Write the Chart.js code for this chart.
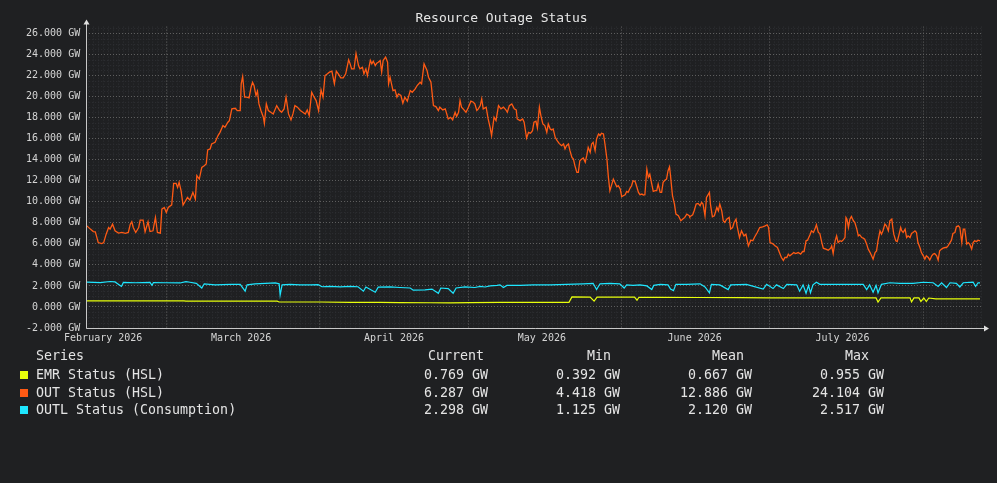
<!DOCTYPE html>
<html>
<head>
<meta charset="utf-8">
<title>Resource Outage Status</title>
<script src="https://cdn.jsdelivr.net/npm/chart.js@4.4.1/dist/chart.umd.min.js"></script>
<style>
  html, body { margin: 0; padding: 0; background: #1f2022; }
  #wrap { position: relative; width: 997px; height: 483px; overflow: hidden;
          font-family: "DejaVu Sans Mono", monospace; color: #e4e4e4; }
  #chart { position: absolute; left: 0; top: 0; }
  .cell { position: absolute; font-size: 13.3px; line-height: 16px; white-space: pre; }
  .num { text-align: right; width: 110px; }
  .sw { position: absolute; width: 8px; height: 8px; }
</style>
</head>
<body>
<div id="wrap">
  <canvas id="chart" width="997" height="350"></canvas>
  <div id="legend"></div>
</div>
<script>
// time axis: days counted from 1 February 2026
const monthStartDays = [0, 28, 59, 89, 120, 150];
const monthLabels = ['February 2026', 'March 2026', 'April 2026', 'May 2026', 'June 2026', 'July 2026'];
const midMonthDays = [12.9, 43.9, 74.1, 105.1, 135.2, 166.4];
const yTickValues = [-2000, 0, 2000, 4000, 6000, 8000, 10000, 12000, 14000, 16000, 18000, 20000, 22000, 24000, 26000];

const seriesNames = ['EMR Status (HSL)', 'OUT Status (HSL)', 'OUTL Status (Consumption)'];
const statCurrent = [0.769, 6.287, 2.298];
const statMin = [0.392, 4.418, 1.125];
const statMean = [0.667, 12.886, 2.120];
const statMax = [0.955, 24.104, 2.517];

// OUT Status (HSL)
const outDays = [
  -3.3,-2.6,-2.0,-1.6,-1.0,-0.3,0.1,0.6,1.1,1.4,1.9,2.4,3.1,3.8,4.5,5.1,5.5,5.8,6.1,6.6,
  7.2,7.5,8.1,8.5,9.1,9.5,10.1,10.6,11.0,11.6,11.9,12.4,12.8,13.2,13.9,14.3,14.8,15.1,15.4,15.8,
  16.2,16.6,17.1,17.6,18.2,18.7,19.0,19.5,20.0,20.5,20.9,21.2,21.7,22.0,22.7,23.3,23.7,24.3,24.7,25.3,
  25.6,26.1,26.8,27.2,27.8,
  28.0,28.3,28.7,29.1,29.6,30.0,30.3,30.6,31.0,31.3,31.6,32.0,32.5,32.7,33.1,33.5,34.0,34.5,35.2,35.8,
  36.2,36.7,37.1,37.6,38.1,38.5,38.9,39.4,40.0,40.5,41.0,41.4,41.8,42.3,42.8,43.2,43.7,44.2,44.6,45.0,
  45.5,45.9,46.4,46.9,47.3,47.7,48.2,48.7,49.2,49.8,50.1,50.4,50.9,51.3,51.8,52.1,52.6,52.9,53.3,53.6,
  54.2,54.5,54.8,55.2,55.5,55.8,56.2,56.5,56.8,57.3,57.7,57.9,
  58.2,58.8,59.2,59.6,59.9,60.4,60.8,61.2,61.7,62.3,62.7,63.3,63.7,64.3,64.6,65.1,65.7,66.0,66.5,67.0,
  67.5,68.0,68.3,68.9,69.4,70.0,70.5,70.9,71.4,71.7,72.1,72.4,72.7,73.2,73.6,74.1,74.6,75.1,75.4,75.8,
  76.1,76.5,76.8,77.1,77.7,78.1,78.5,78.8,79.3,79.7,80.2,80.7,81.2,81.7,82.0,82.4,82.9,83.4,83.8,84.0,
  84.6,85.1,85.4,85.9,86.3,86.7,87.1,87.4,87.8,88.1,88.5,
  88.8,89.2,89.6,90.0,90.3,90.7,91.0,91.3,91.7,92.1,92.5,93.0,93.4,93.7,94.0,94.4,94.7,95.1,95.4,95.7,
  96.1,96.4,96.7,97.1,97.4,97.8,98.1,98.4,98.8,99.1,99.4,99.8,100.1,100.5,100.8,101.1,101.5,101.8,102.2,102.5,
  102.8,103.2,103.5,103.8,104.2,104.5,104.9,105.2,105.5,105.9,106.2,106.5,106.9,107.2,107.5,107.9,108.2,108.6,108.9,109.3,
  109.6,109.9,110.3,110.6,110.9,111.3,111.6,112.0,112.3,112.6,113.0,113.3,113.6,114.0,114.3,114.6,114.9,115.1,115.5,115.9,
  116.2,116.7,117.2,117.6,118.0,118.4,118.9,
  119.0,119.6,119.9,120.3,120.7,121.1,121.4,121.7,122.1,122.4,122.8,123.0,123.2,123.6,124.0,124.5,124.8,125.1,125.5,125.8,
  126.1,126.5,127.0,127.3,127.7,128.0,128.4,128.6,129.1,129.5,130.0,130.4,130.9,131.4,131.8,132.2,132.7,133.2,133.8,134.3,
  134.7,135.0,135.3,135.8,136.3,136.8,137.2,137.6,138.0,138.3,138.7,139.0,139.3,139.7,140.1,140.5,141.0,141.5,141.9,142.2,
  142.6,142.9,143.4,143.7,144.1,144.4,144.7,145.1,145.4,145.8,146.1,146.6,147.1,147.6,147.8,148.1,148.5,148.8,
  149.1,149.5,149.8,150.1,150.5,150.7,150.9,151.2,151.5,151.8,152.2,152.5,152.9,153.2,153.5,153.9,154.2,154.5,154.9,155.2,
  155.6,155.9,156.2,156.6,156.9,157.2,157.6,157.9,158.2,158.6,158.9,159.3,159.6,160.0,160.2,160.4,160.8,161.1,161.4,161.8,
  162.0,162.3,162.7,163.0,163.3,163.7,164.0,164.3,164.7,165.0,165.3,165.7,166.0,166.4,166.7,167.0,167.4,167.7,168.1,168.4,
  168.7,169.1,169.4,169.7,170.1,170.4,170.8,171.1,171.4,171.8,172.1,172.4,172.8,173.1,173.5,173.8,174.2,174.5,174.8,175.2,
  175.5,175.8,176.2,176.5,176.8,177.2,177.5,177.9
];
const outValues = [
  7710,7400,7170,7140,6120,6030,6120,6920,7550,7400,7870,7240,7020,7080,7000,7080,7870,8100,7550,7080,
  7550,8250,8250,7140,8100,7170,7240,8510,7080,7020,9300,9460,8980,9460,9710,11740,11740,11360,11840,11050,
  9680,10000,10410,10160,10890,10250,12480,12160,13270,13430,13590,14920,15020,15490,15650,16290,16600,17240,17080,17560,
  17710,18830,18890,18670,18670,
  21210,21900,19940,19940,19870,20890,21360,21050,20100,20510,19300,18670,18030,17460,19300,18670,18510,18350,19140,18670,
  18510,18830,19940,18350,17780,18350,19140,18990,18670,18510,18350,18730,18190,20410,19940,19620,18670,20630,19940,22000,
  22160,22320,22410,21210,22410,22160,21780,21780,22160,23490,23110,22630,22630,24104,22950,22630,22790,22160,22630,22000,
  23430,23110,23370,22950,23170,23270,23430,22320,23430,23750,23270,21210,
  21840,20570,20630,19940,20250,20100,19370,19940,19560,20570,20410,20730,21050,21360,21210,23110,22480,21840,21360,19140,
  19050,18670,18990,18730,18830,17870,18030,17780,18510,18100,18510,19620,18990,18730,18510,18990,19560,19460,19300,18670,
  18830,19140,19780,18830,18990,17870,17080,16290,18030,17710,19140,18830,18990,18730,18510,19140,19300,18830,18730,17870,
  17710,17870,17560,16060,16600,16510,16760,17560,17650,17020,18990,
  18190,17400,17240,16600,17400,16920,16830,16920,16120,15810,15550,15330,15490,15020,15330,15490,14860,14220,14060,13430,
  12790,12790,13900,14060,14160,13750,14380,15170,14700,15490,15650,14860,15970,16450,16290,16510,16450,15490,14060,12320,
  11050,11680,12160,11840,11430,11520,11210,10480,10570,10670,10980,10890,11300,11520,12000,11940,11520,10890,10670,10730,
  10640,10670,13110,12320,12630,11680,10980,11050,11050,11680,10890,10890,11840,12060,12160,12950,13330,12480,10570,9780,
  8830,8670,8190,8350,8510,8830,8670,
  8570,8760,9140,9780,9840,9620,9940,9780,8670,10410,10730,10890,9780,8570,8670,9460,9140,9780,9140,8190,
  8030,8350,8510,7400,7550,8030,8350,7710,6600,7240,6760,6920,5810,6350,6290,6670,7080,7550,7620,7710,
  7810,7550,6120,6030,5810,5650,5170,4700,4418,4700,4700,5020,4860,5020,5170,5080,5170,5020,5270,5270,
  6290,6350,6860,7240,7080,7400,7810,7080,6980,6120,5590,5500,5400,5590,5810,5080,6290,6760,
  6120,6290,6220,6350,6600,8510,8350,7550,8350,8600,8190,8030,7400,6760,6860,6600,6540,6440,5970,5500,
  5170,4860,4540,5170,5330,6290,7240,6920,7240,7870,7710,7240,8190,8350,7550,6920,6290,6220,6760,7550,
  7240,7080,7400,6600,6760,6600,6980,7080,7240,7080,6120,5650,5170,4860,4540,4860,4700,4450,4860,5020,
  5080,4860,4450,5330,5500,5590,5650,5650,5810,6120,6350,6980,7080,7620,7710,7550,6120,7400,7400,5970,
  6120,5970,5500,6120,6290,6220,6350,6287
];

// OUTL Status (Consumption)
const outlDays = [
  -3.3,-0.6,1.4,2.4,3.7,4.1,6.5,9.5,9.9,10.2,
  12.6,15.6,16.8,17.6,18.9,20.0,20.5,22.7,25.8,27.8,
  28.8,29.2,30.8,32.9,34.9,35.7,35.9,36.3,37.9,40.0,
  42.0,43.6,44.4,46.0,48.1,50.1,51.7,52.8,53.3,55.2,
  55.8,58.2,60.2,62.3,62.9,65.3,66.7,68.0,68.5,70.0,
  71.0,71.6,73.4,75.4,76.5,77.5,78.5,79.9,80.5,81.2,
  81.9,84.6,87.2,90.7,94.0,97.4,99.4,100.1,100.8,102.8,
  104.8,105.7,106.2,107.5,108.9,110.3,111.3,111.7,113.0,114.6,
  115.1,115.7,116.2,118.4,121.1,122.1,123.0,123.4,125.1,126.8,
  127.3,130.5,133.9,134.6,135.9,136.6,138.0,138.7,140.7,141.3,
  142.0,142.6,143.1,143.5,144.0,144.7,145.4,148.1,151.5,154.2,
  154.9,155.5,156.2,156.8,157.2,157.9,159.6,161.6,164.3,166.4,
  168.4,169.4,170.1,171.1,171.8,173.1,173.8,174.5,176.5,177.0,
  177.5,177.9
];
const outlValues = [
  2355,2320,2420,2380,1950,2330,2300,2340,2050,2320,
  2300,2280,2400,2350,2250,1800,2200,2100,2150,2150,
  1500,2100,2200,2250,2280,2200,1125,2100,2150,2100,
  2100,2120,1920,1950,1900,1950,1920,1500,1900,1400,
  1880,1900,1850,1800,1600,1620,1700,1300,1800,1750,
  1300,1800,1900,1850,1950,1900,2000,2050,2100,1850,
  2050,2050,2100,2100,2150,2200,2250,1650,2200,2250,
  2200,1800,2100,2050,2100,2000,1650,2050,2150,2100,
  1700,1550,2150,2150,2200,1900,1350,2150,2100,1650,
  2100,2150,1700,2150,1750,2100,1750,2150,2100,1500,
  2100,1300,2050,1350,2100,2350,2150,2150,2150,2150,
  1650,2100,1400,2050,1350,2150,2300,2250,2250,2350,
  2300,1950,2300,1850,2300,2250,1900,2300,2350,1950,
  2300,2298
];

// EMR Status (HSL)
const emrDays = [
  -3.3,5.5,9.5,16.4,16.8,25.8,29.8,35.3,35.7,44.0,
  50.1,56.2,60.2,66.3,70.4,74.4,80.5,86.6,94.5,95.1,
  98.8,99.6,100.2,104.8,107.8,108.3,108.7,113.0,121.1,129.2,
  135.3,145.4,156.8,157.2,157.8,163.7,164.0,164.5,165.5,165.9,
  166.5,167.0,167.5,168.9,177.9
];
const emrValues = [
  580,585,575,570,550,555,560,555,470,470,
  440,430,420,400,392,420,440,440,440,950,
  940,560,940,930,930,640,920,920,900,890,
  870,860,860,460,860,860,480,860,860,520,
  850,520,850,770,769
];

const FONT = '"DejaVu Sans Mono", monospace';
const colors = ['#e8ff0c', '#ff5a14', '#1ee6ff'];

function pairs(days, values) {
  return days.map((d, i) => ({ x: d, y: values[i] }));
}

const chartDecor = {
  id: 'chartDecor',
  beforeDraw(chart) {
    // faint minor grid
    const { ctx, chartArea: a, scales } = chart;
    ctx.save();
    ctx.strokeStyle = '#2f3034';
    ctx.lineWidth = 1;
    ctx.setLineDash([1, 2]);
    ctx.beginPath();
    for (let v = -1500; v < 26650; v += 500) {
      if (v % 2000 === 0) continue;
      const y = Math.round(scales.y.getPixelForValue(v)) + 0.5;
      ctx.moveTo(a.left, y); ctx.lineTo(a.right, y);
    }
    for (let d = -3; d <= 178; d++) {
      const x = Math.round(scales.x.getPixelForValue(d)) + 0.5;
      ctx.moveTo(x, a.top); ctx.lineTo(x, a.bottom);
    }
    ctx.stroke();
    ctx.restore();
  },
  afterDraw(chart) {
    // axes with arrow heads
    const { ctx, chartArea: a } = chart;
    const x0 = Math.round(a.left) + 0.5, y0 = Math.round(a.bottom) + 0.5;
    ctx.save();
    ctx.strokeStyle = '#c8c8c8';
    ctx.fillStyle = '#e0e0e0';
    ctx.lineWidth = 1;
    ctx.beginPath();
    ctx.moveTo(x0, y0); ctx.lineTo(x0, a.top - 3);
    ctx.moveTo(x0, y0); ctx.lineTo(a.right + 2, y0);
    ctx.stroke();
    ctx.beginPath();
    ctx.moveTo(x0, a.top - 7); ctx.lineTo(x0 - 3, a.top - 2); ctx.lineTo(x0 + 3, a.top - 2);
    ctx.closePath(); ctx.fill();
    ctx.beginPath();
    ctx.moveTo(a.right + 6, y0); ctx.lineTo(a.right + 1, y0 - 3); ctx.lineTo(a.right + 1, y0 + 3);
    ctx.closePath(); ctx.fill();
    ctx.restore();
  }
};

const chart = new Chart(document.getElementById('chart'), {
  type: 'line',
  data: {
    datasets: [
      { label: seriesNames[0], data: pairs(emrDays, emrValues), borderColor: colors[0], borderWidth: 1.2 },
      { label: seriesNames[1], data: pairs(outDays, outValues), borderColor: colors[1], borderWidth: 1.3 },
      { label: seriesNames[2], data: pairs(outlDays, outlValues), borderColor: colors[2], borderWidth: 1.2 }
    ]
  },
  options: {
    responsive: false,
    animation: false,
    devicePixelRatio: 1,
    elements: { point: { radius: 0 }, line: { tension: 0 } },
    layout: { padding: { left: 20, right: 14, top: 0, bottom: 2 } },
    plugins: {
      legend: { display: false },
      tooltip: { enabled: false },
      title: {
        display: true,
        text: 'Resource Outage Status',
        color: '#e6e6e6',
        font: { family: FONT, size: 13, weight: 'normal' },
        padding: { top: 11, bottom: 0 }
      }
    },
    scales: {
      x: {
        type: 'linear',
        min: -3.45,
        max: 178.5,
        afterBuildTicks: axis => {
          axis.ticks = monthStartDays.concat(midMonthDays).sort((a, b) => a - b).map(v => ({ value: v }));
        },
        ticks: {
          autoSkip: false, maxRotation: 0, padding: 4,
          color: '#d4d4d4', font: { family: FONT, size: 10 },
          callback: v => {
            const i = monthStartDays.indexOf(v);
            return i >= 0 ? monthLabels[i] : '';
          }
        },
        grid: {
          drawTicks: false,
          color: ctx => (ctx.tick && monthStartDays.indexOf(ctx.tick.value) >= 0) ? 'rgba(0,0,0,0)' : '#5e5e5e'
        },
        border: { display: false, dash: [1, 2] }
      },
      y: {
        type: 'linear',
        min: -2000,
        max: 26650,
        afterBuildTicks: axis => { axis.ticks = yTickValues.map(v => ({ value: v })); },
        ticks: {
          padding: 6, color: '#d4d4d4', font: { family: FONT, size: 10 },
          callback: v => (v / 1000).toFixed(3) + ' GW'
        },
        grid: { drawTicks: false, color: '#5e5e5e' },
        border: { display: false, dash: [1, 2] }
      }
    }
  },
  plugins: [chartDecor]
});

// legend table under the chart
const legend = document.getElementById('legend');
function cell(text, left, top, cls) {
  const el = document.createElement('div');
  el.className = 'cell' + (cls ? ' ' + cls : '');
  el.textContent = text;
  el.style.left = left + 'px';
  el.style.top = top + 'px';
  legend.appendChild(el);
}
const fmt = v => v.toFixed(3) + ' GW';
cell('Series', 36, 348);
cell('Current', 428, 348);
cell('Min', 587, 348);
cell('Mean', 712, 348);
cell('Max', 845, 348);
const rowTops = [367, 384.5, 402];
seriesNames.forEach((name, i) => {
  const sw = document.createElement('div');
  sw.className = 'sw';
  sw.style.left = '20px';
  sw.style.top = (rowTops[i] + 4) + 'px';
  sw.style.background = colors[i];
  legend.appendChild(sw);
  cell(name, 36, rowTops[i]);
  cell(fmt(statCurrent[i]), 488 - 110, rowTops[i], 'num');
  cell(fmt(statMin[i]), 620 - 110, rowTops[i], 'num');
  cell(fmt(statMean[i]), 752 - 110, rowTops[i], 'num');
  cell(fmt(statMax[i]), 884 - 110, rowTops[i], 'num');
});
</script>
</body>
</html>
